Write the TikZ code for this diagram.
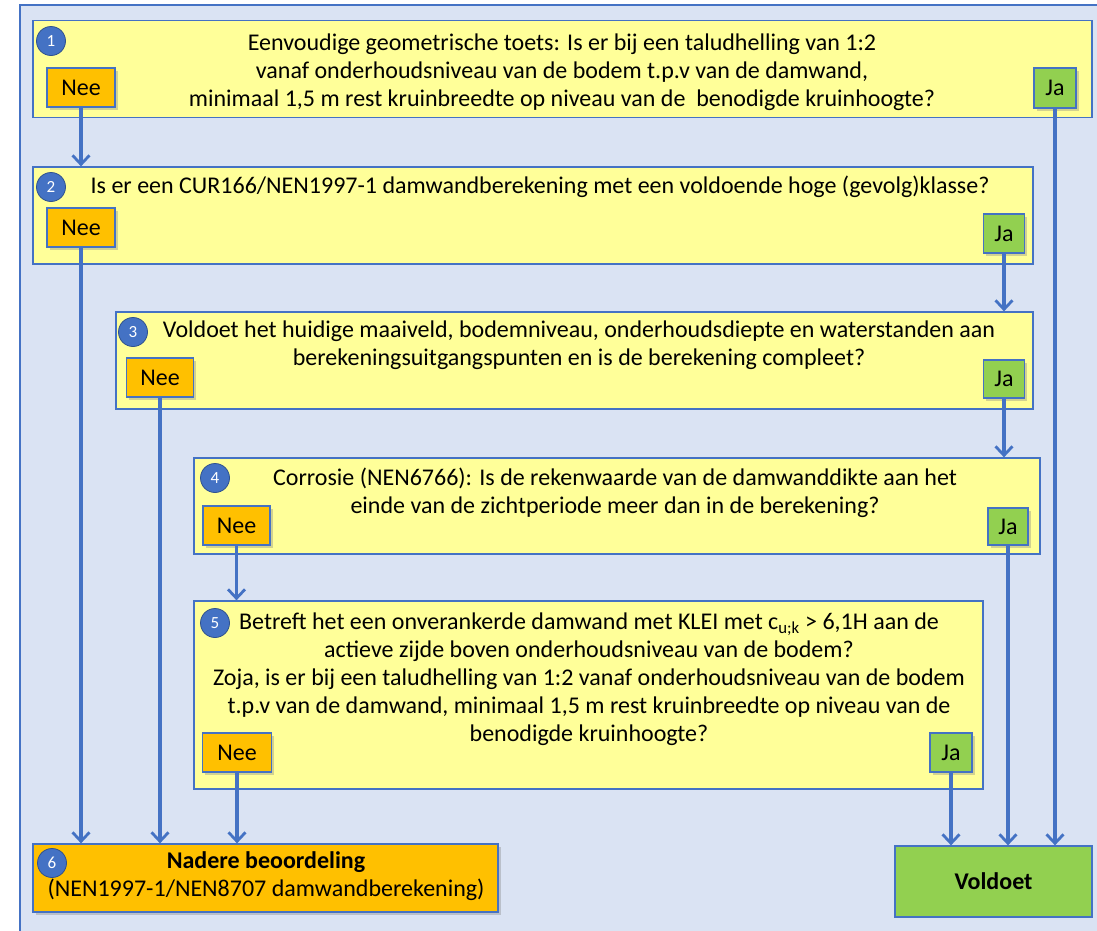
\documentclass[tikz,border=0pt]{standalone}
\usepackage{fontspec}
\setmainfont{Carlito}
\usetikzlibrary{arrows.meta,shadows}
\definecolor{bgblue}{HTML}{DAE3F3}
\definecolor{edgeblue}{HTML}{4472C4}
\definecolor{darkblue}{HTML}{2F528F}
\definecolor{qyellow}{HTML}{FFFF99}
\definecolor{norange}{HTML}{FFC000}
\definecolor{jgreen}{HTML}{92D050}
\tikzset{
  qbox/.style={draw=edgeblue, line width=1.3pt, fill=qyellow, rectangle, inner sep=0pt},
  answer/.style={draw=edgeblue, line width=1.3pt, rectangle, inner sep=0pt,
     font=\fontsize{24}{28}\selectfont,
     drop shadow={opacity=0.35, shadow xshift=2.5pt, shadow yshift=-2.5pt}},
  neebox/.style={answer, fill=norange},
  jabox/.style={answer, fill=jgreen},
  qtext/.style={align=center, font=\fontsize{24}{28}\selectfont, inner sep=0pt},
  numdot/.style={circle, draw=darkblue, line width=0.8pt, fill=edgeblue, minimum size=29pt,
     inner sep=0pt, text=white, font=\fontsize{17}{19}\selectfont},
  arr/.style={draw=edgeblue, line width=3.2pt, -{Straight Barb[length=9pt,width=17pt,line width=2.8pt]}}
}
\begin{document}
\begin{tikzpicture}[x=1pt,y=-1pt]
\useasboundingbox (0,0) rectangle (1097,930);
\fill[bgblue] (20,5) rectangle (1110,940);
\draw[edgeblue, line width=1.3pt] (1110,5) -- (20,5) -- (20,940);

% question boxes
\node[qbox, minimum width=1059pt, minimum height=97pt] (q1) at (562.5,69) {};
\node[qbox, minimum width=1000pt, minimum height=97pt] (q2) at (533,215.5) {};
\node[qbox, minimum width=917pt, minimum height=97pt] (q3) at (574.5,360.5) {};
\node[qbox, minimum width=846pt, minimum height=96pt] (q4) at (617,506) {};
\node[qbox, minimum width=789pt, minimum height=188pt] (q5) at (588.5,695) {};
\node[draw=edgeblue, line width=1.3pt, fill=norange, minimum width=465pt, minimum height=68pt,
      drop shadow={opacity=0.35, shadow xshift=2.5pt, shadow yshift=-2.5pt}] (q6) at (265.5,878) {};
\node[draw=edgeblue, line width=1.3pt, fill=jgreen, minimum width=197pt, minimum height=71pt,
      font=\fontsize{24}{28}\selectfont\bfseries] (ok) at (993.5,881.5) {Voldoet};

% texts
\node[qtext] (t1) at (562,72) {Eenvoudige geometrische toets: Is er bij een taludhelling van 1:2\\vanaf onderhoudsniveau van de bodem t.p.v van de damwand,\\minimaal 1,5 m rest kruinbreedte op niveau van de \ benodigde kruinhoogte?};
\node[qtext] (t2) at (540,187) {Is er een CUR166/NEN1997-1 damwandberekening met een voldoende hoge (gevolg)klasse?};
\node[qtext] (t3) at (579,345) {Voldoet het huidige maaiveld, bodemniveau, onderhoudsdiepte en waterstanden aan\\berekeningsuitgangspunten en is de berekening compleet?};
\node[qtext] (t4) at (615,492.5) {Corrosie (NEN6766): Is de rekenwaarde van de damwanddikte aan het\\einde van de zichtperiode meer dan in de berekening?};
\node[qtext] (t5) at (589,679) {Betreft het een onverankerde damwand met KLEI met c\textsubscript{u;k} > 6,1H aan de\\actieve zijde boven onderhoudsniveau van de bodem?\\Zoja, is er bij een taludhelling van 1:2 vanaf onderhoudsniveau van de bodem\\t.p.v van de damwand, minimaal 1,5 m rest kruinbreedte op niveau van de\\benodigde kruinhoogte?};
\node[qtext] (t6) at (266,876.5) {\textbf{Nadere beoordeling}\\(NEN1997-1/NEN8707 damwandberekening)};

% numbers
\node[numdot] (n1) at (51,41) {1};
\node[numdot] (n2) at (51,187) {2};
\node[numdot] (n3) at (133,332) {3};
\node[numdot] (n4) at (215,478) {4};
\node[numdot] (n5) at (215,623) {5};
\node[numdot] (n6) at (52,863) {6};

% answers
\node[neebox, minimum width=68pt, minimum height=39pt] (nee1) at (81,87.5) {Nee};
\node[neebox, minimum width=68pt, minimum height=39pt] (nee2) at (81,227.5) {Nee};
\node[neebox, minimum width=67pt, minimum height=39pt] (nee3) at (160,377.5) {Nee};
\node[neebox, minimum width=67pt, minimum height=39pt] (nee4) at (236.5,525.5) {Nee};
\node[neebox, minimum width=69pt, minimum height=39pt] (nee5) at (237,752.5) {Nee};
\node[jabox, minimum width=42pt, minimum height=40pt] (ja1) at (1055,88) {Ja};
\node[jabox, minimum width=41pt, minimum height=39pt] (ja2) at (1004,233.5) {Ja};
\node[jabox, minimum width=41pt, minimum height=38pt] (ja3) at (1004,379) {Ja};
\node[jabox, minimum width=40pt, minimum height=37pt] (ja4) at (1008,526.5) {Ja};
\node[jabox, minimum width=42pt, minimum height=39pt] (ja5) at (951,752.5) {Ja};

% connectors
\draw[arr] (nee1.south) -- (nee1.south |- q2.north);
\draw[arr] (nee2.south) -- (nee2.south |- q6.north);
\draw[arr] (nee3.south) -- (nee3.south |- q6.north);
\draw[arr] (nee4.south) -- (nee4.south |- q5.north);
\draw[arr] (nee5.south) -- (nee5.south |- q6.north);
\draw[arr] (ja1.south) -- (ja1.south |- ok.north);
\draw[arr] (ja2.south) -- (ja2.south |- q3.north);
\draw[arr] (ja3.south) -- (ja3.south |- q4.north);
\draw[arr] (ja4.south) -- (ja4.south |- ok.north);
\draw[arr] (ja5.south) -- (ja5.south |- ok.north);
\end{tikzpicture}
\end{document}
